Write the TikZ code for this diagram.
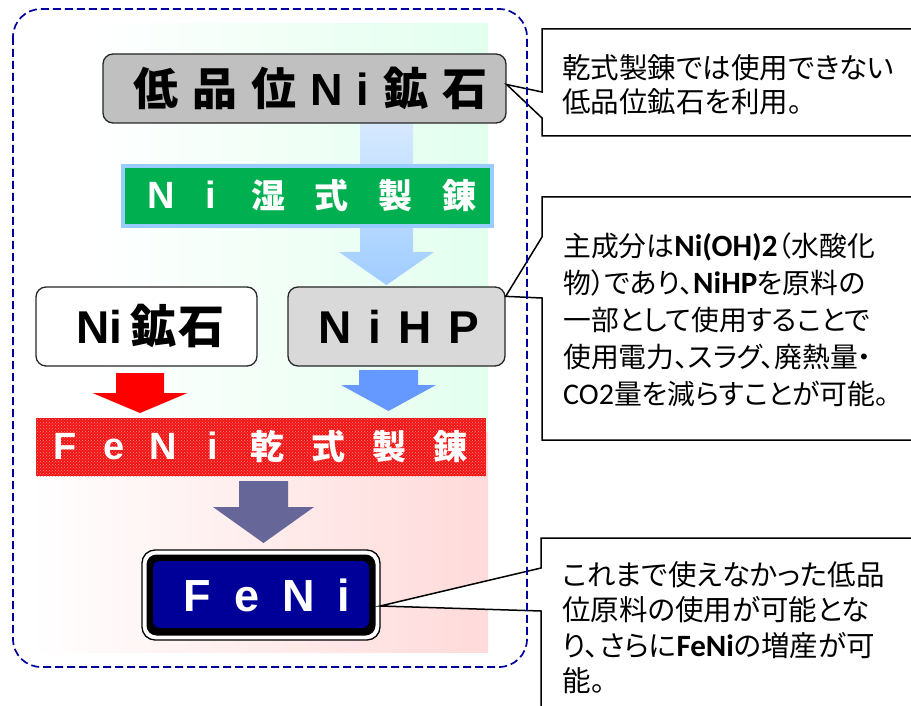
\documentclass[tikz,border=0pt]{standalone}
\usepackage{fontspec}
\usetikzlibrary{calc,patterns}
\newfontfamily\jp[RawFeature=+palt]{Noto Sans CJK JP}
\newfontfamily\jph{Noto Sans CJK JP}
\newfontfamily\lat{Liberation Sans}
\newfontfamily\calib{Carlito}
\definecolor{navyd}{RGB}{0,0,153}
\definecolor{dashc}{RGB}{0,0,160}
\definecolor{grnband}{RGB}{0,176,80}
\definecolor{grnedge}{RGB}{153,204,255}
\definecolor{bgg}{RGB}{226,255,238}
\definecolor{bgp}{RGB}{255,218,218}
\definecolor{lbA}{RGB}{214,233,255}
\definecolor{lbB}{RGB}{160,205,255}
\definecolor{blu}{RGB}{102,153,255}
\definecolor{pur}{RGB}{102,102,153}
\definecolor{grA}{RGB}{192,192,192}
\definecolor{grB}{RGB}{217,217,217}
\definecolor{bandred}{RGB}{240,20,20}
\definecolor{dotred}{RGB}{255,140,140}
\newcommand\blkarrow[7]{\path[#1] ({#2-#6},#3) -- ({#2+#6},#3) -- ({#2+#6},#4) -- ({#2+#7},#4) -- (#2,#5) -- ({#2-#7},#4) -- ({#2-#6},#4) -- cycle;}
\newcommand\ks{\kern14pt}
\newcommand\gL[1]{\makebox[50pt][c]{{\lat\fontsize{38}{38}\selectfont #1}}}
\newcommand\gK[1]{\makebox[64pt][c]{#1}}
\newcommand\rL[1]{\makebox[49pt][c]{{\lat\fontsize{38}{38}\selectfont #1}}}
\newcommand\rK[1]{\makebox[61pt][c]{#1}}
\newcommand\cbf[1]{{\calib\bfseries\fontsize{31}{10}\selectfont #1}}
\newcommand\crm[1]{{\calib\fontsize{30}{10}\selectfont #1}}
\tikzset{
  box/.style={rounded corners=10pt, inner sep=0pt, draw=black!85, line width=1.3pt},
  callout/.style={draw=black, line width=1.5pt, fill=white},
  ctext/.style={anchor=north west, inner sep=0pt, align=left}
}
\begin{document}
\begin{tikzpicture}[x=1pt,y=-1pt]
\useasboundingbox (0,0) rectangle (911,706);
% backgrounds
\fill[left color=white, right color=bgg] (90,24) rectangle (488,432);
\fill[left color=white, right color=bgp] (31,432) rectangle (488,652);
% light blue arrow behind the wet band
\blkarrow{top color=lbA, bottom color=lbB}{386.5}{123}{252}{285}{26.5}{47.5}
% top ore box
\node[box, fill=grA, minimum width=403pt, minimum height=69pt] (low) at (304.5,88.5)
  {\jph\bfseries\fontsize{45}{45}\selectfont\kern12pt 低\ks 品\ks 位\ks{\lat N}\ks{\lat i}\ks 鉱\ks 石};
% wet band
\node[fill=grnband, draw=grnedge, line width=4pt, minimum width=367pt, minimum height=60pt, inner sep=0pt, text=white] (wet) at (307.5,196)
  {\jph\bfseries\fontsize{34}{34}\selectfont\kern13pt\gL{N}\gL{i}\gK{湿}\gK{式}\gK{製}\gK{錬}};
% Ni ore and NiHP
\node[box, fill=white, minimum width=221pt, minimum height=79pt] (ore) at (146.5,326.5)
  {\jph\bfseries\fontsize{46}{46}\selectfont\kern8pt{\lat N}{\lat i}\kern8pt 鉱\kern3pt 石};
\node[box, fill=grB, minimum width=217pt, minimum height=79pt] (nihp) at (396.5,326.5)
  {\lat\bfseries\fontsize{46}{46}\selectfont\kern4pt N\kern17pt i\kern17pt H\kern17pt P};
% arrows to dry band
\blkarrow{fill=red}{140}{373}{393}{413}{24}{47.5}
\blkarrow{fill=blu}{388.5}{370}{385}{411}{29.5}{47.5}
% dry band
\node[preaction={fill=bandred}, pattern=crosshatch dots, pattern color=dotred, minimum width=450pt, minimum height=58pt, inner sep=0pt, text=white] (dry) at (261,447)
  {\jph\bfseries\fontsize{34}{34}\selectfont\rL{F}\rL{e}\rL{N}\rL{i}\rK{乾}\rK{式}\rK{製}\rK{錬}};
% purple arrow
\blkarrow{fill=pur}{263.5}{481}{507}{543}{24.5}{50.5}
% FeNi box
\draw[fill=white, draw=black, line width=1.3pt, rounded corners=13pt] (142,550) rectangle (380,640);
\fill[black, rounded corners=10pt] (146.5,554.5) rectangle (375.5,635.5);
\fill[navyd, rounded corners=7pt] (153,561) rectangle (369,628);
\node[minimum width=238pt, minimum height=90pt, inner sep=0pt, text=white] (feni) at (261,595)
  {\lat\bfseries\fontsize{45}{45}\selectfont\kern12pt F\kern23pt e\kern23pt N\kern23pt i};
% callouts
\draw[callout] (915,29) -- (542,29) -- (542,92) -- ($(low.east)+(0,-4)$) -- (542,118) -- (542,136) -- (915,136);
\node[ctext, font=\jp\fontsize{28.5}{34}\selectfont] (c1) at (562,54) {乾式製錬では使用できない\\低品位鉱石を利用。};
\draw[callout] (915,197) -- (542,197) -- (542,237) -- ($(nihp.north east)+(0,10)$) -- (542,298) -- (542,440) -- (915,440);
\node[ctext, font=\jp\fontsize{27.8}{37}\selectfont] (c2) at (563,233) {主成分は\cbf{Ni(OH)2}（水酸化\\
物）であり、\cbf{NiHP}を原料の\\
一部として使用することで\\
使用電力、スラグ、廃熱量・\\
\crm{CO2}量を減らすことが可能。};
\draw[callout] (915,538) -- (541,538) -- (541,568) -- ($(feni.east)+(0,11)$) -- (541,611) -- (541,715);
\node[ctext, font=\jp\fontsize{28.5}{35.5}\selectfont] (c3) at (562,561) {これまで使えなかった低品\\
位原料の使用が可能とな\\
り、さらに\cbf{FeNi}の増産が可\\
能。};
% dashed frame
\draw[dashc, line width=1.7pt, dash pattern=on 8pt off 4pt, rounded corners=28pt] (13,9) rectangle (527,667);
\end{tikzpicture}
\end{document}
